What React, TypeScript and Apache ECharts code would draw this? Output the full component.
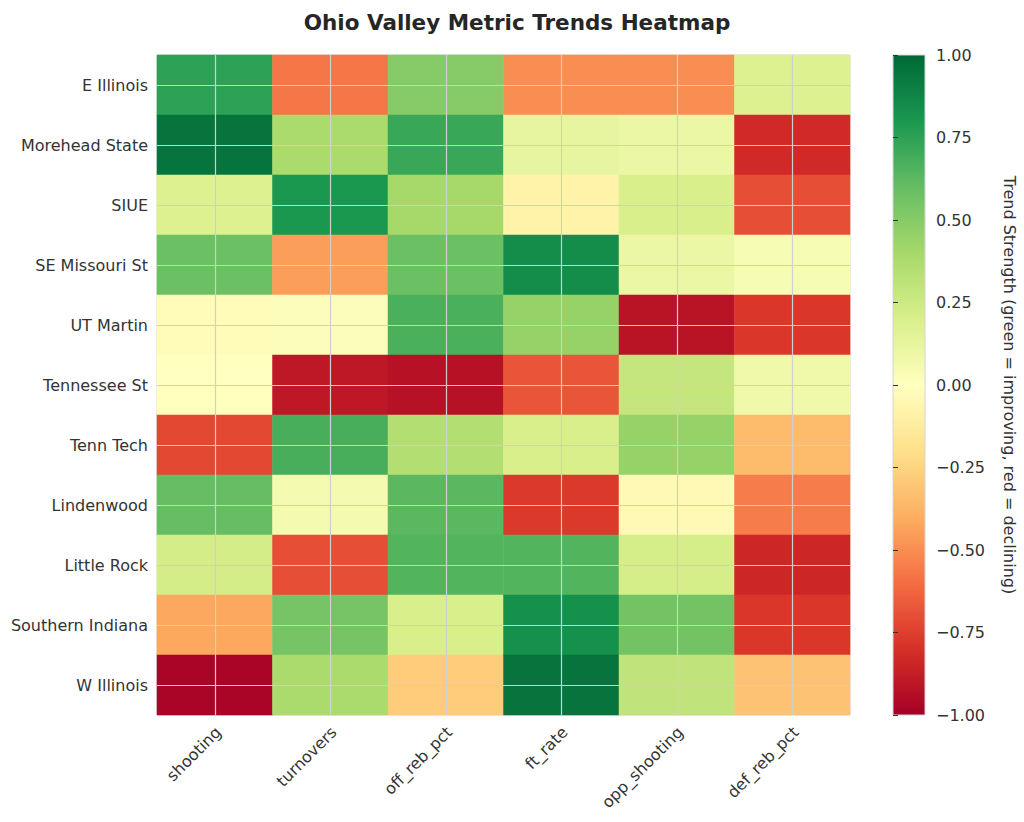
import React, { useEffect, useRef } from "react";
import * as echarts from "echarts";

const teams = [
  "E Illinois",
  "Morehead State",
  "SIUE",
  "SE Missouri St",
  "UT Martin",
  "Tennessee St",
  "Tenn Tech",
  "Lindenwood",
  "Little Rock",
  "Southern Indiana",
  "W Illinois",
];
const metrics = ["shooting", "turnovers", "off_reb_pct", "ft_rate", "opp_shooting", "def_reb_pct"];

// one array per metric, values in team order
const shooting = [0.75, 0.95, 0.18, 0.58, -0.02, 0.0, -0.72, 0.6, 0.22, -0.42, -0.98];
const turnovers = [-0.57, 0.38, 0.8, -0.45, 0.02, -0.9, 0.68, 0.06, -0.7, 0.55, 0.38];
const offRebPct = [0.5, 0.72, 0.4, 0.58, 0.67, -0.93, 0.35, 0.63, 0.65, 0.2, -0.28];
const ftRate = [-0.5, 0.12, -0.08, 0.85, 0.45, -0.68, 0.2, -0.77, 0.65, 0.83, 0.95];
const oppShooting = [-0.5, 0.1, 0.2, 0.1, -0.92, 0.28, 0.45, -0.04, 0.21, 0.56, 0.3];
const defRebPct = [0.18, -0.83, -0.7, 0.04, -0.78, 0.08, -0.35, -0.55, -0.84, -0.78, -0.32];

const columns = [shooting, turnovers, offRebPct, ftRate, oppShooting, defRebPct];

const colorbarTicks = { min: -1, max: 1, step: 0.25 };

const rdYlGn = [
  "#a50026", "#d73027", "#f46d43", "#fdae61", "#fee08b", "#ffffbf",
  "#d9ef8b", "#a6d96a", "#66bd63", "#1a9850", "#006837",
];

const FONT = "DejaVu Sans";
const GRID_LINE = "#cfcfcf";

export default function App() {
  const ref = useRef<HTMLDivElement>(null);
  useEffect(() => {
    if (!ref.current) return;
    const chart = echarts.init(ref.current, null, { renderer: "svg" });
    const data: [number, number, number][] = [];
    columns.forEach((col, ci) => col.forEach((v, ri) => data.push([ci, ri, v])));

    const stops = rdYlGn
      .slice()
      .reverse()
      .map((c, i) => ({ offset: i / (rdYlGn.length - 1), color: c }));

    const grid0 = { left: 157, top: 55, width: 693, height: 660 };
    const grid1 = { left: 893, top: 55, width: 32, height: 660 };

    // overlay axes: 2 units per cell, lines drawn at every odd unit (cell centres)
    const nx = metrics.length * 2;
    const ny = teams.length * 2;

    chart.setOption({
      animation: false,
      textStyle: { fontFamily: FONT },
      title: {
        text: "Ohio Valley Metric Trends Heatmap",
        left: 512,
        textAlign: "center",
        top: 6,
        textStyle: { fontFamily: FONT, fontSize: 21.5, fontWeight: "bold", color: "#262626" },
      },
      grid: [
        { ...grid0, show: true, borderColor: "#d4d4d4", borderWidth: 1, backgroundColor: "transparent" },
        {
          ...grid1,
          show: true,
          borderColor: "#d4d4d4",
          borderWidth: 1,
          backgroundColor: new echarts.graphic.LinearGradient(0, 0, 0, 1, stops),
        },
      ],
      visualMap: {
        show: false,
        type: "continuous",
        min: -1,
        max: 1,
        dimension: 2,
        seriesIndex: 0,
        inRange: { color: rdYlGn },
      },
      xAxis: [
        {
          type: "category",
          gridIndex: 0,
          data: metrics,
          axisLine: { show: false },
          axisTick: { show: false },
          splitLine: { show: false },
          axisLabel: {
            rotate: 45,
            fontSize: 16,
            color: "#333",
            margin: 18,
            padding: [0, -5, 0, 0],
            fontFamily: FONT,
          },
        },
        {
          type: "value",
          gridIndex: 0,
          min: 0,
          max: nx,
          interval: 1,
          z: 10,
          axisLine: { show: false },
          axisTick: { show: false },
          axisLabel: { show: false },
          splitLine: { show: true, lineStyle: { color: ["transparent", GRID_LINE], width: 1.2 } },
        },
        {
          type: "value",
          gridIndex: 1,
          show: false,
          min: 0,
          max: 1,
        },
      ],
      yAxis: [
        {
          type: "category",
          gridIndex: 0,
          data: teams,
          inverse: true,
          axisLine: { show: false },
          axisTick: { show: false },
          splitLine: { show: false },
          axisLabel: { fontSize: 16, color: "#333", margin: 9, fontFamily: FONT },
        },
        {
          type: "value",
          gridIndex: 0,
          min: 0,
          max: ny,
          interval: 1,
          z: 10,
          axisLine: { show: false },
          axisTick: { show: false },
          axisLabel: { show: false },
          splitLine: { show: true, lineStyle: { color: ["transparent", GRID_LINE], width: 1.2 } },
        },
        {
          type: "value",
          gridIndex: 1,
          position: "right",
          min: colorbarTicks.min,
          max: colorbarTicks.max,
          interval: colorbarTicks.step,
          axisLine: { show: false },
          axisTick: { show: true, length: 5, lineStyle: { color: "#333" } },
          splitLine: { show: false },
          axisLabel: {
            fontSize: 16,
            color: "#333",
            margin: 11,
            fontFamily: FONT,
            formatter: (v: number) => (v < 0 ? "\u2212" : "") + Math.abs(v).toFixed(2),
          },
          name: "Trend Strength (green = improving, red = declining)",
          nameLocation: "middle",
          nameRotate: -90,
          nameGap: 76,
          nameTextStyle: { fontSize: 16, color: "#333", fontFamily: FONT },
        },
      ],
      series: [
        {
          type: "heatmap",
          xAxisIndex: 0,
          yAxisIndex: 0,
          data,
          itemStyle: { borderWidth: 0 },
        },
      ],
    });
    return () => chart.dispose();
  }, []);
  return (
    <div
      ref={ref}
      style={{ position: "absolute", left: 0, top: 0, width: 1024, height: 822 }}
    />
  );
}
